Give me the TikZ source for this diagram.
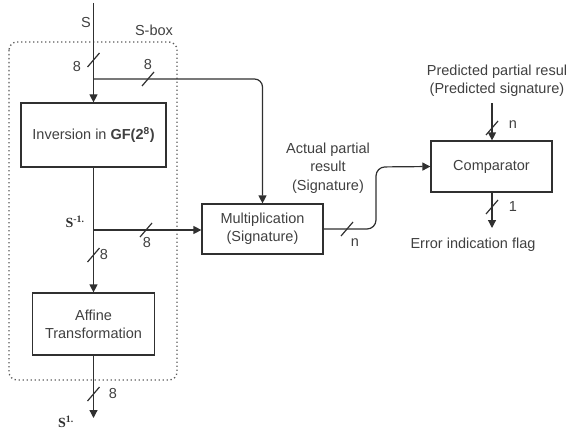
\documentclass[tikz,border=0pt]{standalone}
\usepackage{fontspec}
\setmainfont{Liberation Sans}
\newfontfamily\serifbf{Liberation Serif}
\usetikzlibrary{arrows.meta,calc}
\definecolor{ink}{HTML}{303030}
\definecolor{txt}{HTML}{404040}
\tikzset{
  blk/.style={draw=ink, line width=1.2pt, minimum width=#1, align=center, text=txt, font=\fontsize{14.5}{18}\selectfont, inner sep=0pt},
  wire/.style={draw=ink, line width=1.2pt},
  arr/.style={wire, -{Triangle[length=8pt,width=8pt]}},
  lbl/.style={text=txt, font=\fontsize{14.5}{18.5}\selectfont, align=center, inner sep=0pt},
  sig/.style={text=ink, font=\serifbf\bfseries\fontsize{14}{16}\selectfont, inner sep=0pt},
}
\newcommand{\bslash}[1]{\draw[wire] ($(#1)+(-6,7)$) -- ($(#1)+(6,-7)$);}
\begin{document}
\begin{tikzpicture}[x=1pt,y=-1pt]
\useasboundingbox (0,0) rectangle (569,433);
% S-box dotted frame
\draw[ink!80, line width=1.3pt, dash pattern=on 1.3pt off 2.7pt, rounded corners=8pt] (9,42) rectangle (177,380);
\node[lbl] (sboxl) at (154,30) {S-box};
% blocks
\node[blk=145pt, minimum height=64pt] (inv) at (93.5,135) {Inversion in \textbf{GF(2\textsuperscript{8})}};
\node[blk=122pt, minimum height=62pt, text width=120pt] (aff) at (93.5,324) {Affine\\Transformation};
\node[blk=121pt, minimum height=50pt, text width=120pt] (mul) at (262.5,229) {Multiplication\\(Signature)};
\node[blk=121pt, minimum height=51pt] (cmp) at (491.5,166.5) {Comparator};
% coordinates
\coordinate (top) at (93.5,3);
\coordinate (b1) at (93.5,79);
\coordinate (b2) at (93.5,230);
\coordinate (outS) at (93.5,418);
\coordinate (ptop) at (492,103);
\coordinate (eout) at (492,228);
% wires
\draw[arr] (top) -- (inv.north);
\draw[arr, rounded corners=8pt] (b1) -- (262.5,79) -- (mul.north);
\draw[arr] (inv.south) -- (aff.north);
\draw[arr] (b2) -- (b2 -| mul.west);
\draw[arr, rounded corners=9pt] (mul.east) -- (376,229) -- (376,167) -- (cmp.west);
\draw[arr] (aff.south) -- (outS);
\draw[arr] (ptop) -- (ptop |- cmp.north);
\draw[arr] (cmp.south -| eout) -- (eout);
% bus slashes
\coordinate (s1) at (93.5,60);
\coordinate (s2) at (148,79);
\coordinate (s3) at (146,230);
\coordinate (s4) at (93.5,255);
\coordinate (s5) at (93.5,394);
\coordinate (s6) at (347,229);
\coordinate (s7) at (492,128);
\coordinate (s8) at (492,207);
\foreach \s in {s1,s2,s3,s4,s5,s6,s7,s8} {\bslash{\s}}
% labels
\node[lbl] (l1) at (77,67) {8};
\node[lbl] (l2) at (148,65) {8};
\node[lbl] (l3) at (147,243) {8};
\node[lbl] (l4) at (104,255) {8};
\node[lbl] (l5) at (113,394) {8};
\node[lbl] (l6) at (355,243) {n};
\node[lbl] (l7) at (513,125) {n};
\node[lbl] (l8) at (513,207) {1};
\node[lbl] (sl) at (86,23) {S};
\node[sig] (sm1) at (75,222) {S\textsuperscript{-1.}};
\node[sig] (sp1) at (66,422) {S\textsuperscript{1.}};
\node[lbl] (act) at (328,168) {Actual partial\\result\\(Signature)};
\node[lbl] (pred) at (497,81) {Predicted partial resul\\(Predicted signature)};
\node[lbl] (err) at (473,245) {Error indication flag};
\end{tikzpicture}
\end{document}
